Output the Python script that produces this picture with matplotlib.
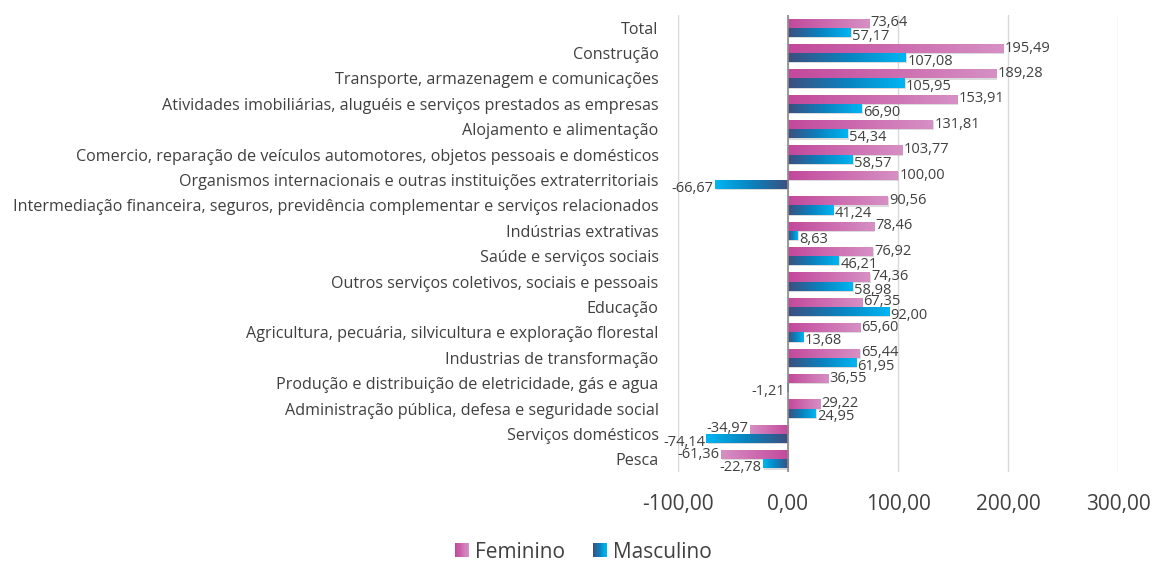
import matplotlib
matplotlib.use("Agg")
import matplotlib.pyplot as plt
import numpy as np
from matplotlib.colors import LinearSegmentedColormap
from matplotlib.patches import Rectangle
from matplotlib.legend_handler import HandlerBase
import matplotlib.patheffects as pe

plt.rcParams['font.family'] = ['Open Sans', 'DejaVu Sans']

categories = [
    "Total",
    "Construção",
    "Transporte, armazenagem e comunicações",
    "Atividades imobiliárias, aluguéis e serviços prestados as empresas",
    "Alojamento e alimentação",
    "Comercio, reparação de veículos automotores, objetos pessoais e domésticos",
    "Organismos internacionais e outras instituições extraterritoriais",
    "Intermediação financeira, seguros, previdência complementar e serviços relacionados",
    "Indústrias extrativas",
    "Saúde e serviços sociais",
    "Outros serviços coletivos, sociais e pessoais",
    "Educação",
    "Agricultura, pecuária, silvicultura e exploração florestal",
    "Industrias de transformação",
    "Produção e distribuição de eletricidade, gás e agua",
    "Administração pública, defesa e seguridade social",
    "Serviços domésticos",
    "Pesca",
]
feminino = [73.64, 195.49, 189.28, 153.91, 131.81, 103.77, 100.00, 90.56, 78.46,
            76.92, 74.36, 67.35, 65.60, 65.44, 36.55, 29.22, -34.97, -61.36]
masculino = [57.17, 107.08, 105.95, 66.90, 54.34, 58.57, -66.67, 41.24, 8.63,
             46.21, 58.98, 92.00, 13.68, 61.95, -1.21, 24.95, -74.14, -22.78]
xticks = [-100, 0, 100, 200, 300]
series_names = ["Feminino", "Masculino"]

text_color = "#404040"
fem_cmap = LinearSegmentedColormap.from_list("fem", ["#C2489B", "#CD6CB0", "#D690C4"])
mas_cmap = LinearSegmentedColormap.from_list("mas", ["#3E4E7E", "#0A82BE", "#00B6F2"])

fig = plt.figure(figsize=(11.53, 5.63), dpi=100)
ax = fig.add_axes([678/1153, 1 - 472/563, 440/1153, 457/563])

n = len(categories)
y = np.arange(n)
h = 0.36

def fmt(v):
    return f"{v:.2f}".replace(".", ",")

def draw_series(vals, offset, cmap, label_dy):
    bars = ax.barh(y + offset, vals, height=h, color=cmap(0.5), zorder=3,
                   path_effects=[pe.SimplePatchShadow(offset=(0.8, -0.8), shadow_rgbFace="#9A9A9A", alpha=0.35), pe.Normal()])
    grad = np.linspace(0, 1, 256).reshape(1, -1)
    for b, v in zip(bars, vals):
        x0 = b.get_x(); w = b.get_width(); yb = b.get_y(); hh = b.get_height()
        im = ax.imshow(grad, cmap=cmap, extent=[x0, x0 + w, yb, yb + hh], aspect='auto',
                       zorder=4, interpolation='bilinear', origin='lower')
        im.set_clip_path(b)
        if v >= 0:
            ax.annotate(fmt(v), (v, yb + hh/2), xytext=(1.0, label_dy), textcoords='offset points',
                        ha='left', va='center', fontsize=10.5, color=text_color, zorder=6)
        else:
            ax.annotate(fmt(v), (v, yb + hh/2), xytext=(-1.0, label_dy), textcoords='offset points',
                        ha='right', va='center', fontsize=10.5, color=text_color, zorder=6)
    return bars

draw_series(feminino, -h/2, fem_cmap, 0.3)
draw_series(masculino, h/2, mas_cmap, -2.8)

ax.set_xlim(-100, 300)
ax.set_ylim(n - 0.5, -0.5)
ax.set_xticks(xticks)
ax.set_xticklabels([fmt(t) for t in xticks], fontsize=15, color=text_color)
ax.set_yticks(y)
ax.set_yticklabels(categories, fontsize=11.6, color=text_color)
ax.tick_params(axis='both', length=0)
ax.tick_params(axis='y', pad=14)
ax.tick_params(axis='x', pad=16)
for s in ax.spines.values():
    s.set_visible(False)
ax.grid(axis='x', color="#D9D9D9", linewidth=1, zorder=0)
ax.set_axisbelow(True)
ax.axvline(0, color="#8C8C8C", linewidth=1.2, zorder=5)

class GradHandler(HandlerBase):
    def __init__(self, cmap):
        super().__init__()
        self.cmap = cmap
    def create_artists(self, legend, orig_handle, xdescent, ydescent, width, height, fontsize, trans):
        side = 10.0
        x0 = width - side
        y0 = (height - side) / 2
        arts = []
        k = 12
        for i in range(k):
            r = Rectangle((x0 + side*i/k - xdescent, y0 - ydescent), side/k + 0.3, side,
                          facecolor=self.cmap(i/(k-1)), edgecolor='none', transform=trans)
            arts.append(r)
        return arts

h1 = Rectangle((0, 0), 1, 1)
h2 = Rectangle((0, 0), 1, 1)
leg = fig.legend([h1, h2], series_names, handler_map={h1: GradHandler(fem_cmap), h2: GradHandler(mas_cmap)},
                 loc='center', bbox_to_anchor=(583/1153, 1 - 552/563), ncol=2, frameon=False,
                 fontsize=15, handlelength=0.7, handletextpad=0.3, columnspacing=1.3)
for t in leg.get_texts():
    t.set_color(text_color)

fig.savefig("out.png", dpi=100)
